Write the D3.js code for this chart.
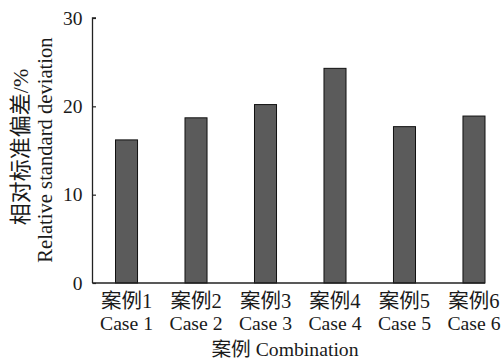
<!DOCTYPE html>
<html>
<head>
<meta charset="utf-8">
<script src="https://cdn.jsdelivr.net/npm/d3@7"></script>
<style>
  html, body { margin: 0; padding: 0; background: #fff; }
  svg { display: block; }
</style>
</head>
<body>
<svg id="chart" width="504" height="359" font-family="'Liberation Serif', 'Times New Roman', 'Noto Sans CJK SC', serif"></svg>
<script>
// Relative standard deviation (%) for each case
const casesZh = ["案例1", "案例2", "案例3", "案例4", "案例5", "案例6"];
const casesEn = ["Case 1", "Case 2", "Case 3", "Case 4", "Case 5", "Case 6"];
const rsd = [16.2, 18.7, 20.2, 24.3, 17.7, 18.9];
const yTicks = [0, 10, 20, 30];

const svg = d3.select("#chart");
const plotLeft = 92.5, plotRight = 508, plotTop = 18, plotBottom = 283;
const ink = "#1a1a1a";

const x = d3.scaleBand()
  .domain(casesZh)
  .range([plotLeft, plotRight])
  .paddingInner(0.683)
  .paddingOuter(0.331);

const y = d3.scaleLinear().domain([0, 30]).range([plotBottom, plotTop]);

// Bars
svg.append("g").selectAll("rect")
  .data(rsd)
  .join("rect")
  .attr("x", (d, i) => x(casesZh[i]))
  .attr("y", d => y(d))
  .attr("width", x.bandwidth())
  .attr("height", d => y(0) - y(d))
  .attr("fill", "#5b5b5b")
  .attr("stroke", "#111")
  .attr("stroke-width", 1);

// Y axis with inward ticks
const yAxis = svg.append("g")
  .attr("transform", `translate(${plotLeft},0)`)
  .call(d3.axisRight(y).tickValues(yTicks).tickSize(3.5).tickFormat(""));
yAxis.select(".domain").attr("d", `M3.5,${plotTop}H0V${plotBottom}`).attr("stroke", "#222").attr("stroke-width", 1.3);
yAxis.selectAll(".tick line").attr("stroke", "#222").attr("stroke-width", 1.2);

svg.append("g").selectAll("text")
  .data(yTicks)
  .join("text")
  .attr("x", plotLeft - 10)
  .attr("y", d => y(d))
  .attr("dy", "0.35em")
  .attr("text-anchor", "end")
  .attr("font-size", 19.5)
  .attr("fill", ink)
  .text(d => d);

// X axis baseline
const xEnd = x(casesZh[casesZh.length - 1]) + x.bandwidth();
svg.append("line")
  .attr("x1", plotLeft).attr("x2", xEnd)
  .attr("y1", plotBottom).attr("y2", plotBottom)
  .attr("stroke", "#222").attr("stroke-width", 1.3);

// X category labels (two lines)
const xl = svg.append("g").selectAll("g")
  .data(casesZh)
  .join("g")
  .attr("transform", d => `translate(${x(d) + x.bandwidth() / 2},0)`);
xl.append("text")
  .attr("y", 307.5)
  .attr("text-anchor", "middle").attr("font-size", 20.5)
  .attr("fill", ink)
  .text(d => d);
xl.append("text")
  .attr("y", 329.5)
  .attr("text-anchor", "middle").attr("font-size", 19.7)
  .attr("fill", ink)
  .text((d, i) => casesEn[i]);

// X axis title
svg.append("text")
  .attr("x", 285).attr("y", 355.5)
  .attr("text-anchor", "middle").attr("font-size", 19.7)
  .attr("fill", ink)
  .text("案例 Combination");

// Y axis title (two rotated lines)
const yt = svg.append("g").attr("transform", "translate(0,150) rotate(-90)");
yt.append("text")
  .attr("x", 3).attr("y", 27.5)
  .attr("text-anchor", "middle").attr("font-size", 22)
  .attr("fill", ink)
  .text("相对标准偏差/%");
yt.append("text")
  .attr("x", 0).attr("y", 51.5)
  .attr("text-anchor", "middle").attr("font-size", 20.6)
  .attr("fill", ink)
  .text("Relative standard deviation");
</script>
</body>
</html>
